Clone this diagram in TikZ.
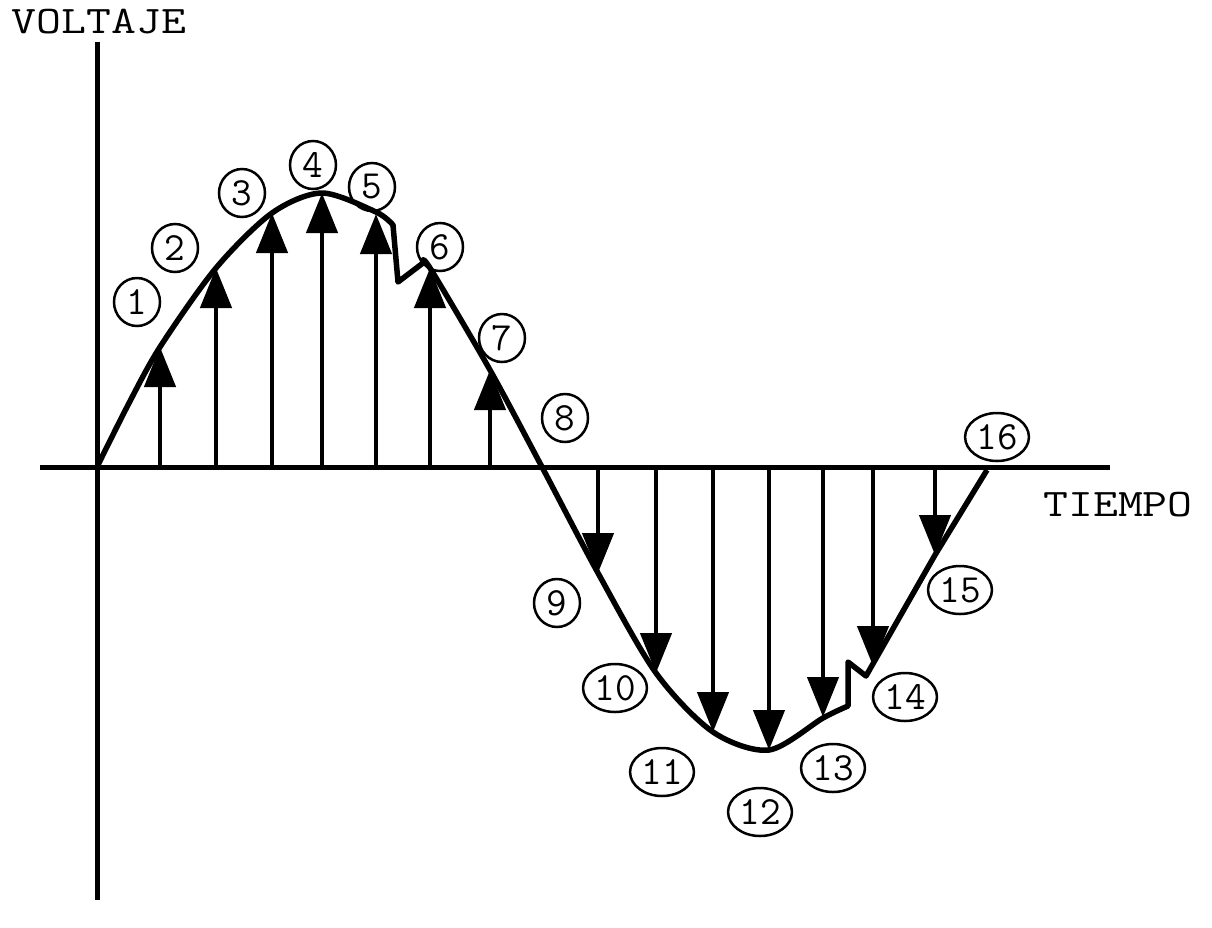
\documentclass[tikz,border=0pt]{standalone}
\usepackage{graphicx}
\usetikzlibrary{arrows.meta,shapes.geometric}

\begin{document}
\begin{tikzpicture}[x=1pt,y=-1pt,
  eje/.style={line width=5pt},
  onda/.style={line width=5.5pt,line join=round},
  muestra/.style={line width=4.5pt,-{Triangle[width=31pt,length=40pt]}},
  num/.style={draw,ellipse,line width=2.5pt,inner sep=2pt,minimum width=46pt,minimum height=48pt,font=\fontsize{40}{40}\ttfamily},
  rotulo/.style={font=\fontsize{39}{39}\ttfamily}]

\useasboundingbox (0,0) rectangle (1212,927);

% ejes
\coordinate (O) at (97,467);
\coordinate (ytop) at (97,42);
\coordinate (ybot) at (97,900);
\coordinate (xizq) at (40,467);
\coordinate (xder) at (1110,467);
\draw[eje] (ytop) -- (ybot);
\draw[eje] (xizq) -- (xder);

% onda muestreada
\draw[onda] plot[smooth] coordinates {(97,467) (128,405) (160,347) (216,268) (272,213) (322,193) (376,212) (393,225)}
  -- (398,282) -- (423,263)
  -- plot[smooth] coordinates {(423,263) (430,268) (490,370) (542,467) (598,573) (656,673) (713,732) (769,750) (823,718) (848,706)}
  -- (848,662) -- (866,676) -- (935,555) -- (987,470);

% muestras
\foreach \x/\y [count=\i] in {160/347,216/268,272/213,322/193,376/214,430/268,490/370,598/573,656/673,713/732,769/750,823/717,873/666,935/555} {
  \coordinate (b\i) at (\x,467);
  \coordinate (p\i) at (\x,\y);
  \draw[muestra] (b\i) -- (p\i);
}

% numeros
\foreach \x/\y [count=\i] in {137/302,175/248,242/193,313/165,372/187,440/247,502/338,565/418,557/603,615/688,662/772,760/812,833/768,905/697,960/590,997/437}
  \node[num] (n\i) at (\x,\y) {\i};

\node[rotulo] (volt) at (99,22) {\scalebox{1.24}[1]{VOLTAJE}};
\node[rotulo] (tiempo) at (1118,505) {\scalebox{1.24}[1]{TIEMPO}};

\end{tikzpicture}
\end{document}
